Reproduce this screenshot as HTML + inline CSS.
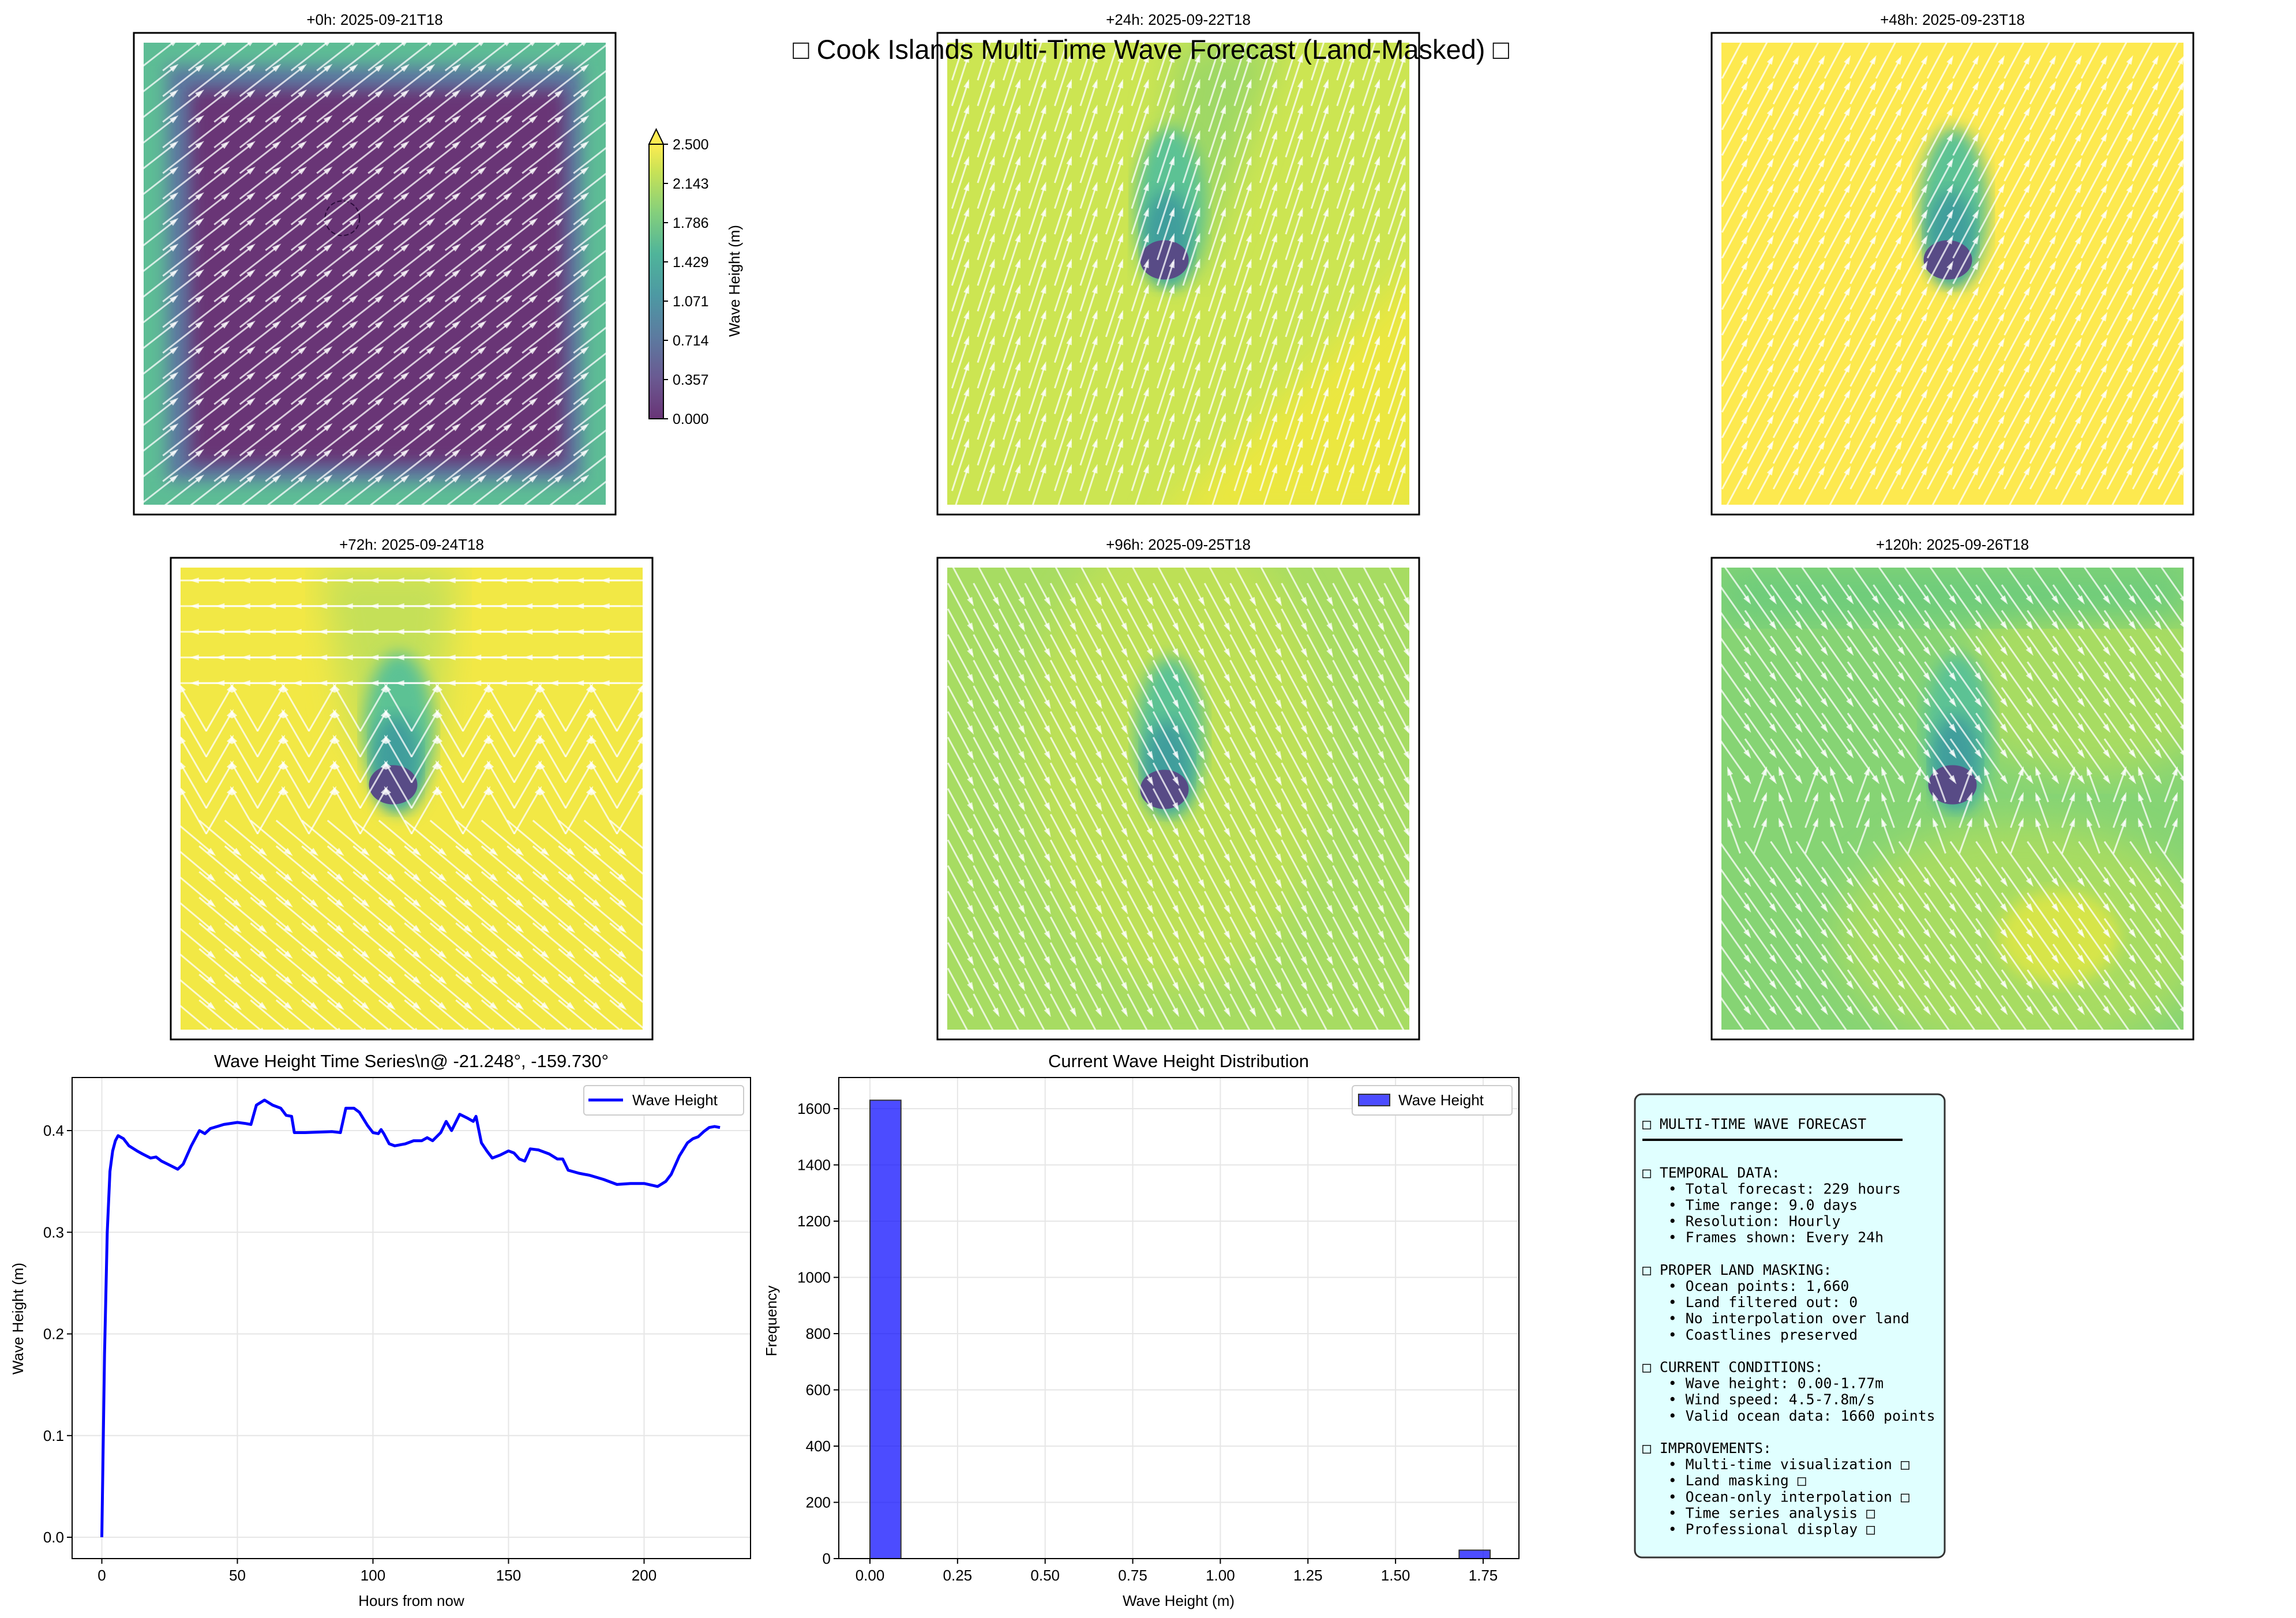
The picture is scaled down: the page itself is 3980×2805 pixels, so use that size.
<!DOCTYPE html>
<html><head><meta charset="utf-8"><style>
html,body{margin:0;padding:0;background:#fff;}
svg{display:block;font-family:"Liberation Sans","DejaVu Sans",sans-serif;}
</style></head><body>
<svg id="root" width="3980" height="2805" viewBox="0 0 3980 2805" xmlns="http://www.w3.org/2000/svg">
<defs>
<linearGradient id="cbar" x1="0" y1="1" x2="0" y2="0">
<stop offset="0" stop-color="#693476"/><stop offset="0.15" stop-color="#6a5a92"/><stop offset="0.3" stop-color="#5c7ba0"/><stop offset="0.45" stop-color="#4d99a3"/><stop offset="0.6" stop-color="#4fb49a"/><stop offset="0.75" stop-color="#84cf7c"/><stop offset="0.9" stop-color="#c8e256"/><stop offset="1" stop-color="#fdec51"/>
</linearGradient>
<filter id="blur30"><feGaussianBlur stdDeviation="30"/></filter>
<filter id="blur15"><feGaussianBlur stdDeviation="14"/></filter>
</defs>
<g id="maps"></g>
<text x="1995" y="102" font-size="47" text-anchor="middle">□ Cook Islands Multi-Time Wave Forecast (Land-Masked) □</text>
<g id="colorbar">
<rect x="1125" y="250" width="25" height="476" fill="url(#cbar)" stroke="#000" stroke-width="2"/>
<polygon points="1125,250 1150,250 1137.5,224" fill="#fdec51" stroke="#000" stroke-width="2"/>
<text transform="translate(1282,487) rotate(-90)" font-size="26" text-anchor="middle">Wave Height (m)</text>
</g>
<g id="ts"></g>
<g id="hist"></g>
<g>
<rect x="2834" y="1897" width="537" height="803" rx="12" fill="#e0ffff" stroke="#333" stroke-width="3"/>
<line x1="2847" y1="1976" x2="3298" y2="1976" stroke="#000" stroke-width="4"/>
<text id="infotext" font-family="'DejaVu Sans Mono','Liberation Mono',monospace" font-size="24.8" fill="#000"></text>
</g>
</svg>
<script>
// ---------- time series data ----------
const tsHours=[0,1,2,3,4,5,6,8,10,13,15,18,20,22,25,28,30,33,36,38,40,45,50,53,55,57,60,63,66,68,70,71,75,85,88,90,93,95,98,100,102,103,104,106,108,112,115,118,120,122,125,127,129,132,135,137,138,140,142,144,147,150,152,154,156,158,161,165,168,170,172,176,180,185,190,195,200,205,208,210,213,216,218,220,222,224,226,228];
const tsValues=[0,0.18,0.3,0.36,0.38,0.39,0.395,0.392,0.385,0.38,0.377,0.373,0.374,0.370,0.366,0.362,0.367,0.385,0.400,0.397,0.402,0.406,0.408,0.407,0.406,0.425,0.430,0.425,0.422,0.415,0.414,0.398,0.398,0.399,0.398,0.422,0.422,0.418,0.405,0.398,0.397,0.401,0.397,0.387,0.385,0.387,0.390,0.390,0.393,0.390,0.398,0.409,0.400,0.416,0.412,0.409,0.414,0.388,0.380,0.373,0.376,0.380,0.378,0.372,0.370,0.382,0.381,0.377,0.372,0.372,0.361,0.358,0.356,0.352,0.347,0.348,0.348,0.345,0.350,0.357,0.375,0.388,0.392,0.394,0.399,0.403,0.404,0.403];
const tsXTicks=[0,50,100,150,200];
const tsYTicks=[0.0,0.1,0.2,0.3,0.4];
// ---------- histogram data ----------
const histBinStart=[0,0.0885,0.177,0.2655,0.354,0.4425,0.531,0.6195,0.708,0.7965,0.885,0.9735,1.062,1.1505,1.239,1.3275,1.416,1.5045,1.593,1.6815];
const histCounts=[1630,0,0,0,0,0,0,0,0,0,0,0,0,0,0,0,0,0,0,30];
const histBinWidth=0.0885;
const histXTicks=[0,0.25,0.5,0.75,1.0,1.25,1.5,1.75];
const histYTicks=[0,200,400,600,800,1000,1200,1400,1600];

const NS='http://www.w3.org/2000/svg';
function mk(tag,attrs,parent){const e=document.createElementNS(NS,tag);for(const k in attrs)e.setAttribute(k,attrs[k]);if(parent)parent.appendChild(e);return e;}

// ---------- time series ----------
(function(){
const g=document.getElementById('ts');
const L=125,R=1301,T=1868,B=2702;
const xs=h=>176.5+h*4.7, ys=v=>2665-v*1762.5;
mk('rect',{x:L,y:T,width:R-L,height:B-T,fill:'#fff'},g);
tsXTicks.forEach(t=>{const x=xs(t);
const l=mk('line',{x1:x,y1:T,x2:x,y2:B,stroke:'#e6e6e6','stroke-width':2},g);
mk('line',{x1:x,y1:B,x2:x,y2:B+9,stroke:'#000','stroke-width':2},g);
const tx=mk('text',{x:x,y:B+38,'font-size':26,'text-anchor':'middle'},g);tx.textContent=t;});
tsYTicks.forEach(t=>{const y=ys(t);
mk('line',{x1:L,y1:y,x2:R,y2:y,stroke:'#e6e6e6','stroke-width':2},g);
mk('line',{x1:L-9,y1:y,x2:L,y2:y,stroke:'#000','stroke-width':2},g);
const tx=mk('text',{x:L-14,y:y+9,'font-size':26,'text-anchor':'end'},g);tx.textContent=t.toFixed(1);});
let d='';tsHours.forEach((h,i)=>{d+=(i?'L':'M')+xs(h).toFixed(1)+','+ys(tsValues[i]).toFixed(1);});
const p=mk('path',{d:d,fill:'none',stroke:'#0000ff','stroke-width':5,'stroke-linejoin':'round'},g);

mk('rect',{x:L,y:T,width:R-L,height:B-T,fill:'none',stroke:'#000','stroke-width':2},g);
const lg=mk('g',{},g);
mk('rect',{x:1012,y:1882,width:277,height:51,rx:5,fill:'#fff',stroke:'#ccc','stroke-width':2},lg);
mk('line',{x1:1020,y1:1907,x2:1080,y2:1907,stroke:'#0000ff','stroke-width':5},lg);
const lt=mk('text',{x:1096,y:1916,'font-size':26},lg);lt.textContent='Wave Height';
const ti=mk('text',{x:713,y:1850,'font-size':31,'text-anchor':'middle'},g);ti.textContent='Wave Height Time Series\\n@ -21.248°, -159.730°';
const xl=mk('text',{x:713,y:2784,'font-size':26,'text-anchor':'middle'},g);xl.textContent='Hours from now';
const yl=mk('text',{transform:'translate(40,2286) rotate(-90)','font-size':26,'text-anchor':'middle'},g);yl.textContent='Wave Height (m)';
})();

// ---------- histogram ----------
(function(){
const g=document.getElementById('hist');
const L=1454,R=2633,T=1868,B=2702;
const xs=v=>1508+v*607.4, ys=c=>2702-c*0.4875;
histXTicks.forEach(t=>{const x=xs(t);
mk('line',{x1:x,y1:T,x2:x,y2:B,stroke:'#e6e6e6','stroke-width':2},g);
mk('line',{x1:x,y1:B,x2:x,y2:B+9,stroke:'#000','stroke-width':2},g);
const tx=mk('text',{x:x,y:B+38,'font-size':26,'text-anchor':'middle'},g);tx.textContent=t.toFixed(2);});
histYTicks.forEach(t=>{const y=ys(t);
mk('line',{x1:L,y1:y,x2:R,y2:y,stroke:'#e6e6e6','stroke-width':2},g);
mk('line',{x1:L-9,y1:y,x2:L,y2:y,stroke:'#000','stroke-width':2},g);
const tx=mk('text',{x:L-14,y:y+9,'font-size':26,'text-anchor':'end'},g);tx.textContent=t;});
histCounts.forEach((c,i)=>{if(c<=0)return;const x0=xs(histBinStart[i]),x1=xs(histBinStart[i]+histBinWidth);
const r=mk('rect',{x:x0,y:ys(c),width:x1-x0,height:ys(0)-ys(c),fill:'rgba(0,0,255,0.7)',stroke:'#333','stroke-width':2},g);
});
mk('rect',{x:L,y:T,width:R-L,height:B-T,fill:'none',stroke:'#000','stroke-width':2},g);
const lg=mk('g',{},g);
mk('rect',{x:2344,y:1882,width:277,height:51,rx:5,fill:'#fff',stroke:'#ccc','stroke-width':2},lg);
mk('rect',{x:2355,y:1897,width:54,height:20,fill:'rgba(0,0,255,0.7)',stroke:'#333','stroke-width':2},lg);
const lt=mk('text',{x:2424,y:1916,'font-size':26},lg);lt.textContent='Wave Height';
const ti=mk('text',{x:2043,y:1850,'font-size':31,'text-anchor':'middle'},g);ti.textContent='Current Wave Height Distribution';
const xl=mk('text',{x:2043,y:2784,'font-size':26,'text-anchor':'middle'},g);xl.textContent='Wave Height (m)';
const yl=mk('text',{transform:'translate(1346,2290) rotate(-90)','font-size':26,'text-anchor':'middle'},g);yl.textContent='Frequency';
})();

// ---------- colorbar ticks ----------
(function(){
const g=document.getElementById('colorbar');
['0.000','0.357','0.714','1.071','1.429','1.786','2.143','2.500'].forEach((t,i)=>{const y=726-i*68;
mk('line',{x1:1150,y1:y,x2:1158,y2:y,stroke:'#000','stroke-width':2},g);
const tx=mk('text',{x:1166,y:y+9,'font-size':25},g);tx.textContent=t;});
})();

// ---------- map panels ----------
const panels=[
 {x:232,y:57,t:'+0h: 2025-09-21T18',bg:'#5dbd95',kind:0,ang:38,plume:null},
 {x:1625,y:57,t:'+24h: 2025-09-22T18',bg:'#cce552',kind:1,ang:72,plume:[0.47,0.47]},
 {x:2967,y:57,t:'+48h: 2025-09-23T18',bg:'#fde94f',kind:2,ang:62,plume:[0.49,0.47]},
 {x:296,y:967,t:'+72h: 2025-09-24T18',bg:'#f2e845',kind:3,ang:0,plume:[0.46,0.47]},
 {x:1625,y:967,t:'+96h: 2025-09-25T18',bg:'#a7dc62',kind:4,ang:-62,plume:[0.47,0.48]},
 {x:2967,y:967,t:'+120h: 2025-09-26T18',bg:'#86d474',kind:5,ang:-55,plume:[0.5,0.47]}
];
(function(){
const root=document.getElementById('maps');
panels.forEach((p,pi)=>{
 const g=mk('g',{},root);
 const W=835,H=835,ix=p.x+17,iy=p.y+17,iw=W-34,ih=H-34;
 const cid='clip'+pi;const cp=mk('clipPath',{id:cid},g);mk('rect',{x:ix,y:iy,width:iw,height:ih},cp);
 const inner=mk('g',{'clip-path':'url(#'+cid+')'},g);
 mk('rect',{x:ix,y:iy,width:iw,height:ih,fill:p.bg},inner);
 if(p.kind===0){
  mk('rect',{x:ix+40,y:iy+40,width:iw-80,height:ih-80,fill:'#5c79a0',filter:'url(#blur15)'},inner);
  mk('rect',{x:ix+80,y:iy+80,width:iw-150,height:ih-150,fill:'#693476',filter:'url(#blur15)'},inner);
  mk('circle',{cx:ix+iw*0.43,cy:iy+ih*0.38,r:30,fill:'none',stroke:'#2a0a3a','stroke-width':2,'stroke-dasharray':'8,4'},inner);
 }
 if(p.kind===1){
  mk('path',{d:`M${ix+iw*0.45},${iy+ih*1.05} L${ix+iw*1.05},${iy+ih*0.45} L${ix+iw*1.05},${iy+ih*1.05}Z`,fill:'#ebe73f',filter:'url(#blur30)'},inner);
  mk('path',{d:`M${ix+iw*0.42},${iy+ih*0.5} L${ix+iw*0.5},${iy} L${ix+iw*0.72},${iy} L${ix+iw*0.55},${iy+ih*0.5}Z`,fill:'#9fd865',filter:'url(#blur30)'},inner);
 }
 if(p.kind===3){
  mk('path',{d:`M${ix+iw*0.3},${iy} L${ix+iw*0.6},${iy} L${ix+iw*0.55},${iy+ih*0.4} L${ix+iw*0.38},${iy+ih*0.4}Z`,fill:'#c5e058',filter:'url(#blur30)'},inner);
 }
 if(p.kind===4){
  mk('ellipse',{cx:ix+iw*0.5,cy:iy+ih*0.4,rx:iw*0.32,ry:ih*0.5,fill:'#bde056',filter:'url(#blur30)'},inner);
 }
 if(p.kind===5){
  mk('ellipse',{cx:ix+iw*0.8,cy:iy+ih*0.25,rx:iw*0.3,ry:ih*0.2,fill:'#a7dc62',filter:'url(#blur30)'},inner);
  mk('ellipse',{cx:ix+iw*0.65,cy:iy+ih*0.8,rx:iw*0.4,ry:ih*0.25,fill:'#a7dc62',filter:'url(#blur30)'},inner);
  mk('ellipse',{cx:ix+iw*0.73,cy:iy+ih*0.8,rx:iw*0.13,ry:ih*0.1,fill:'#d7e54a',filter:'url(#blur15)'},inner);
  mk('rect',{x:ix,y:iy,width:iw,height:ih*0.12,fill:'#6ecc7c',filter:'url(#blur30)'},inner);
 }
 if(p.plume){
  const cx=ix+iw*p.plume[0],cy=iy+ih*p.plume[1];
  mk('ellipse',{cx:cx+10,cy:cy-90,rx:60,ry:140,fill:'#5cc294',filter:'url(#blur15)'},inner);
  mk('ellipse',{cx:cx+5,cy:cy-40,rx:42,ry:80,fill:'#3f9e9c',filter:'url(#blur15)'},inner);
  mk('ellipse',{cx:cx,cy:cy,rx:42,ry:34,fill:'#584b86'},inner);
 }
 const n=18;
 for(let r=0;r<n;r++)for(let c=0;c<n;c++){
  const x0=ix+iw*(c+0.5)/n,y0=iy+ih*(r+0.5)/n;
  let a=p.ang,len=p.kind===0?85:90;
  if(p.kind===3){a=r<5?180:(r<10?(c%2?60:120):-40);}
  if(p.kind===5&&r>=8&&r<=10){a=(c%2?70:110);len=60;}
  const rad=a*Math.PI/180,dx=Math.cos(rad)*len/2,dy=-Math.sin(rad)*len/2;
  const ln=mk('line',{x1:x0-dx,y1:y0-dy,x2:x0+dx,y2:y0+dy,stroke:'rgba(255,255,255,0.75)','stroke-width':3},inner);
  
  
  const hx=x0+dx,hy=y0+dy,ux=Math.cos(rad),uy=-Math.sin(rad);
  mk('polygon',{points:`${hx+ux*6},${hy+uy*6} ${hx-ux*10-uy*5},${hy-uy*10+ux*5} ${hx-ux*10+uy*5},${hy-uy*10-ux*5}`,fill:'rgba(255,255,255,0.75)'},inner);
 }
 mk('rect',{x:p.x,y:p.y,width:W,height:H,fill:'none',stroke:'#000','stroke-width':3},g);
 const tt=mk('text',{x:p.x+W/2,y:p.y-14,'font-size':26,'text-anchor':'middle'},g);tt.textContent=p.t;
 
 
});
})();

// ---------- info text ----------
(function(){
const lines=['□ MULTI-TIME WAVE FORECAST','','','□ TEMPORAL DATA:','   • Total forecast: 229 hours','   • Time range: 9.0 days','   • Resolution: Hourly','   • Frames shown: Every 24h','','□ PROPER LAND MASKING:','   • Ocean points: 1,660','   • Land filtered out: 0','   • No interpolation over land','   • Coastlines preserved','','□ CURRENT CONDITIONS:','   • Wave height: 0.00-1.77m','   • Wind speed: 4.5-7.8m/s','   • Valid ocean data: 1660 points','','□ IMPROVEMENTS:','   • Multi-time visualization □','   • Land masking □','   • Ocean-only interpolation □','   • Time series analysis □','   • Professional display □'];
const t=document.getElementById('infotext');
lines.forEach((s,i)=>{const ts=mk('tspan',{x:2847,y:1957+i*28.1},t);ts.textContent=s.replace(/ /g,'\u00a0');});
})();
</script>
</body></html>
